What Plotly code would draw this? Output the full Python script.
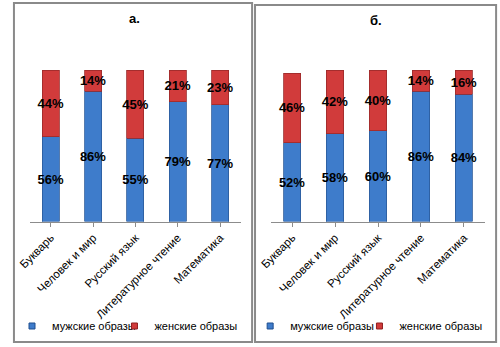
import plotly.graph_objects as go

categories = ["Букварь", "Человек и мир", "Русский язык", "Литературное чтение", "Математика"]
male_a = [56, 86, 55, 79, 77]
female_a = [44, 14, 45, 21, 23]
male_b = [52, 58, 60, 86, 84]
female_b = [46, 42, 40, 14, 16]
series_names = ["мужские образы", "женские образы"]
titles = ["а.", "б."]

BLUE = "#3E7CCB"
RED = "#D13B3B"
FONT = "Arial, Liberation Sans, sans-serif"
W, H = 500, 347

def px(x):
    return x / W

def py(y):
    return 1 - y / H

fig = go.Figure()

panels = [
    ("x", "y", male_a, female_a, ("legend", "legend2")),
    ("x2", "y2", male_b, female_b, ("legend3", "legend4")),
]
for xa, ya, m, f, lgs in panels:
    for vals, name, col, lc in [(m, series_names[0], BLUE, "#2A5A9A"), (f, series_names[1], RED, "#9A2A2A")]:
        fig.add_trace(go.Bar(
            x=categories, y=vals, name=name, xaxis=xa, yaxis=ya, showlegend=False,
            width=0.4,
            marker=dict(color=col, line=dict(color=lc, width=0.8)),
            text=[f"{v}%" for v in vals], textposition="inside", textangle=0,
            insidetextanchor="middle", constraintext="none",
            textfont=dict(family=FONT, size=13, color="black", weight="bold"),
            cliponaxis=False, hoverinfo="skip",
        ))
    for name, col, lc, lg in [(series_names[0], BLUE, "#1F4F8F", lgs[0]),
                              (series_names[1], RED, "#8F1F1F", lgs[1])]:
        fig.add_trace(go.Scatter(
            x=[None], y=[None], mode="markers", name=name, xaxis=xa, yaxis=ya, legend=lg,
            marker=dict(symbol="square", size=6, color=col, line=dict(color=lc, width=1)),
            showlegend=True, hoverinfo="skip",
        ))

ydom = [py(221.5), py(70)]
axis_common = dict(
    showgrid=False, zeroline=False, showline=True, linecolor="#8C8C8C", linewidth=1,
    ticks="outside", ticklen=4, tickcolor="#8C8C8C", tickangle=-45,
    tickfont=dict(family=FONT, size=11.5, color="black"), fixedrange=True,
)
yaxis_common = dict(range=[0, 100], visible=False, domain=ydom, fixedrange=True)

legend_common = dict(orientation="h", yanchor="middle", xanchor="left",
                     font=dict(family=FONT, size=11, color="black"), itemwidth=30,
                     bgcolor="rgba(0,0,0,0)")

fig.update_layout(
    width=W, height=H, margin=dict(l=0, r=0, t=0, b=0),
    paper_bgcolor="white", plot_bgcolor="white",
    barmode="stack", bargap=0.6,
    xaxis=dict(domain=[px(18), px(235)], anchor="y", **axis_common),
    yaxis=dict(anchor="x", **yaxis_common),
    xaxis2=dict(domain=[px(265), px(485)], anchor="y2", **axis_common),
    yaxis2=dict(anchor="x2", **yaxis_common),
    legend=dict(x=px(0), y=py(326), **legend_common),
    legend2=dict(x=px(105), y=py(326), **legend_common),
    legend3=dict(x=px(244), y=py(326), **legend_common),
    legend4=dict(x=px(356), y=py(326), **legend_common),
    showlegend=True,
)

fig.add_shape(type="rect", xref="paper", yref="paper",
              x0=px(2), x1=px(246), y0=py(342), y1=py(3),
              line=dict(color="#8A8A8A", width=2))
fig.add_shape(type="rect", xref="paper", yref="paper",
              x0=px(249), x1=px(496), y0=py(342), y1=py(5),
              line=dict(color="#8A8A8A", width=2))

for t, xc, yc in [(titles[0], 125, 19), (titles[1], 373, 21)]:
    fig.add_annotation(text=t, xref="paper", yref="paper", x=px(xc), y=py(yc),
                       xanchor="center", yanchor="middle",
                       showarrow=False, font=dict(family=FONT, size=13, color="black", weight="bold"))

fig.write_html("out.html")
